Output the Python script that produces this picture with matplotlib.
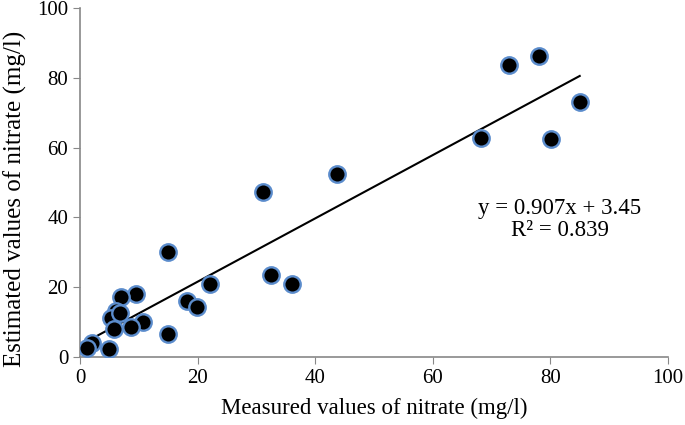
import matplotlib
matplotlib.use("Agg")
import matplotlib.pyplot as plt
import numpy as np

# measured vs estimated nitrate (mg/l)
measured = [73.0, 78.1, 85.0, 68.2, 80.1, 31.1, 43.7, 32.5, 36.1,
            15.0, 22.1, 9.5, 7.0, 18.2, 19.9, 6.1, 5.3, 6.8, 10.7,
            8.7, 5.8, 15.0, 2.0, 1.2, 4.9]
estimated = [83.7, 86.2, 73.1, 62.8, 62.5, 47.3, 52.4, 23.5, 20.9,
             30.1, 20.9, 18.1, 17.2, 16.0, 14.4, 13.2, 11.2, 12.6, 10.0,
             8.6, 8.0, 6.6, 4.0, 2.6, 2.3]
slope, intercept, r2 = 0.907, 3.45, 0.839

plt.rcParams["font.family"] = ["Liberation Serif", "DejaVu Serif"]

fig = plt.figure(figsize=(6.85, 4.25), dpi=100)
ax = fig.add_axes([0.117, 0.16, 0.858, 0.821])

ax.scatter(measured, estimated, s=140, color="black", edgecolors="#5b8ccc",
           linewidths=1.7, zorder=3)
xs = np.array([min(measured), max(measured)])
ax.plot(xs, slope * xs + intercept, color="black", linewidth=1.5, zorder=2)

ax.text(81.6, 39.5, f"y = {slope}x + {intercept}\nR² = {r2}", ha="center",
        va="center", fontsize=16.5, linespacing=1.05)

ax.set_xlim(0, 100)
ax.set_ylim(0, 100)
ax.set_xticks(range(0, 101, 20))
ax.set_yticks(range(0, 101, 20))
ax.tick_params(labelsize=15, color="#888888", length=5, direction="out")
for side in ("top", "right"):
    ax.spines[side].set_visible(False)
for side in ("left", "bottom"):
    ax.spines[side].set_color("#888888")
    ax.spines[side].set_linewidth(1.2)

fig.text(0.546, 0.04, "Measured values of nitrate (mg/l)", fontsize=16.5,
         ha="center", va="center")
fig.text(0.022, 0.532, "Estimated values of nitrate (mg/l)", fontsize=18,
         ha="center", va="center", rotation=90)

fig.savefig("out.png", dpi=100)
